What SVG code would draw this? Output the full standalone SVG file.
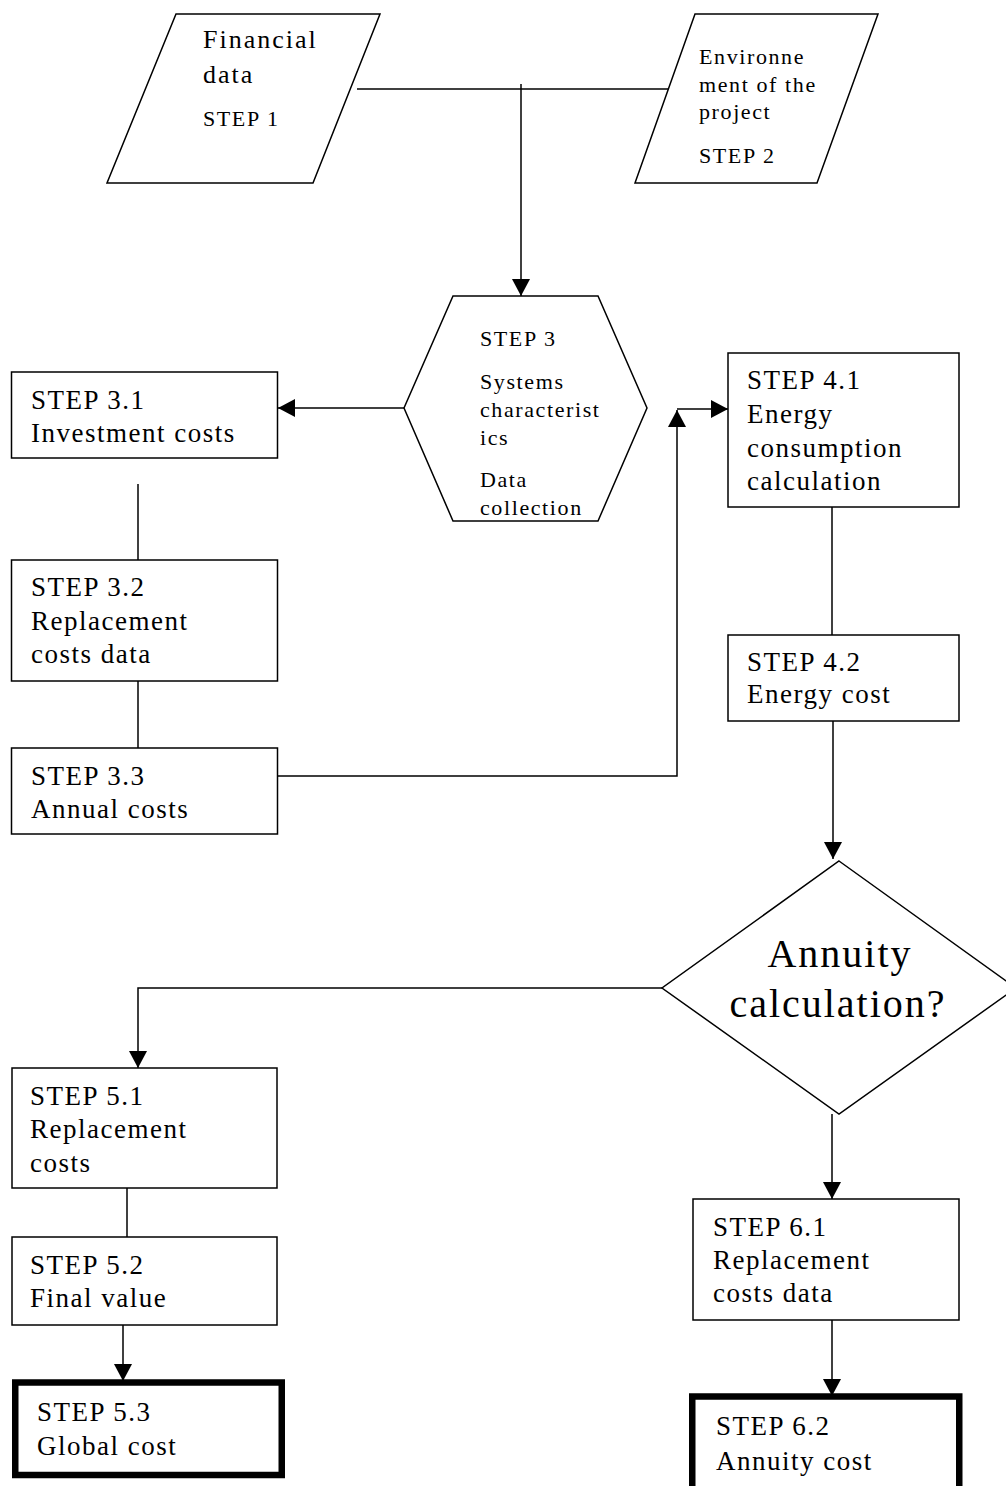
<svg xmlns="http://www.w3.org/2000/svg" width="1006" height="1486" viewBox="0 0 1006 1486">
<style>
.shape{fill:#fff;stroke:#000;stroke-width:1.5}
.thick{fill:#fff;stroke:#000;stroke-width:6.5}
.con{fill:none;stroke:#000;stroke-width:1.5}
.arr{marker-end:url(#ah)}
text{font-family:"Liberation Serif","Times New Roman",serif;fill:#000}
.t{font-size:27px;letter-spacing:1.5px}
.s{font-size:22px;letter-spacing:1.6px}
.f{font-size:26px;letter-spacing:2px}
.d{font-size:40px;letter-spacing:2px;text-anchor:middle}
</style>
<defs>
<marker id="ah" markerUnits="userSpaceOnUse" markerWidth="18" markerHeight="18" refX="17" refY="9" orient="auto">
<path d="M0,0 L17,9 L0,18 z" fill="#000"/>
</marker>
</defs>
<rect width="1006" height="1486" fill="#fff"/>

<g id="connectors">
<line class="con" x1="357" y1="89" x2="670" y2="89"/>
<line class="con arr" x1="521" y1="84" x2="521" y2="296"/>
<line class="con arr" x1="404" y1="408" x2="278" y2="408"/>
<polyline class="con arr" points="277,776 677,776 677,410"/>
<line class="con arr" x1="677" y1="409" x2="728" y2="409"/>
<line class="con" x1="138" y1="484" x2="138" y2="560"/>
<line class="con" x1="138" y1="672" x2="138" y2="748"/>
<line class="con" x1="832" y1="503" x2="832" y2="635"/>
<line class="con arr" x1="833" y1="719" x2="833" y2="859"/>
<polyline class="con arr" points="662,988 138,988 138,1068"/>
<line class="con arr" x1="832" y1="1114" x2="832" y2="1199"/>
<line class="con" x1="127" y1="1180" x2="127" y2="1237"/>
<line class="con arr" x1="123" y1="1324" x2="123" y2="1381"/>
<line class="con arr" x1="832" y1="1312" x2="832" y2="1396"/>
</g>

<g id="step1">
<polygon class="shape" points="176,14 380,14 313,183 107,183"/>
<text class="f" x="203" y="48">Financial</text>
<text class="f" x="203" y="83">data</text>
<text class="s" x="203" y="126">STEP 1</text>
</g>

<g id="step2">
<polygon class="shape" points="695,14 878,14 817,183 635,183"/>
<text class="s" x="699" y="64">Environne</text>
<text class="s" x="699" y="92">ment of the</text>
<text class="s" x="699" y="119">project</text>
<text class="s" x="699" y="163">STEP 2</text>
</g>

<g id="step3">
<polygon class="shape" points="453,296 598,296 647,408 598,521 453,521 404,408"/>
<text class="s" x="480" y="346">STEP 3</text>
<text class="s" x="480" y="389">Systems</text>
<text class="s" x="480" y="417">characterist</text>
<text class="s" x="480" y="445">ics</text>
<text class="s" x="480" y="487">Data</text>
<text class="s" x="480" y="515">collection</text>
</g>

<g id="step3_1">
<rect class="shape" x="11.5" y="372" width="266" height="86"/>
<text class="t" x="31" y="409">STEP 3.1</text>
<text class="t" x="31" y="442">Investment costs</text>
</g>

<g id="step3_2">
<rect class="shape" x="11.5" y="560" width="266" height="121"/>
<text class="t" x="31" y="596">STEP 3.2</text>
<text class="t" x="31" y="630">Replacement</text>
<text class="t" x="31" y="663">costs data</text>
</g>

<g id="step3_3">
<rect class="shape" x="11.5" y="748" width="266" height="86"/>
<text class="t" x="31" y="785">STEP 3.3</text>
<text class="t" x="31" y="818">Annual costs</text>
</g>

<g id="step4_1">
<rect class="shape" x="728" y="353" width="231" height="154"/>
<text class="t" x="747" y="389">STEP 4.1</text>
<text class="t" x="747" y="423">Energy</text>
<text class="t" x="747" y="457">consumption</text>
<text class="t" x="747" y="490">calculation</text>
</g>

<g id="step4_2">
<rect class="shape" x="728" y="635" width="231" height="86"/>
<text class="t" x="747" y="671">STEP 4.2</text>
<text class="t" x="747" y="703">Energy cost</text>
</g>

<g id="decision">
<polygon class="shape" points="839,861 1016,988 839,1114 662,988"/>
<text class="d" x="840" y="967">Annuity</text>
<text class="d" x="838" y="1017">calculation?</text>
</g>

<g id="step5_1">
<rect class="shape" x="12" y="1068" width="265" height="120"/>
<text class="t" x="30" y="1105">STEP 5.1</text>
<text class="t" x="30" y="1138">Replacement</text>
<text class="t" x="30" y="1172">costs</text>
</g>

<g id="step5_2">
<rect class="shape" x="12" y="1237" width="265" height="88"/>
<text class="t" x="30" y="1274">STEP 5.2</text>
<text class="t" x="30" y="1307">Final value</text>
</g>

<g id="step5_3">
<rect class="thick" x="15.25" y="1382.5" width="266.5" height="92.5"/>
<text class="t" x="37" y="1421">STEP 5.3</text>
<text class="t" x="37" y="1455">Global cost</text>
</g>

<g id="step6_1">
<rect class="shape" x="693" y="1199" width="266" height="121"/>
<text class="t" x="713" y="1236">STEP 6.1</text>
<text class="t" x="713" y="1269">Replacement</text>
<text class="t" x="713" y="1302">costs data</text>
</g>

<g id="step6_2">
<rect class="thick" x="692.25" y="1396.5" width="267" height="100"/>
<text class="t" x="716" y="1435">STEP 6.2</text>
<text class="t" x="716" y="1470">Annuity cost</text>
</g>
</svg>
